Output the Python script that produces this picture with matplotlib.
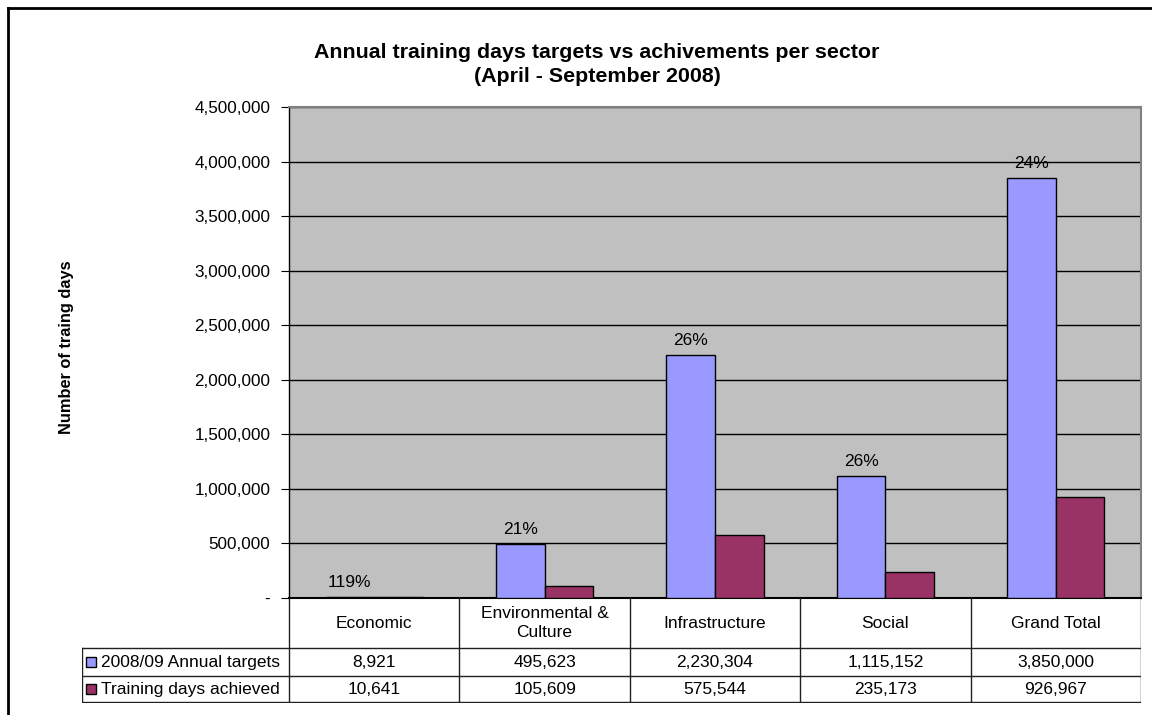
import matplotlib.pyplot as plt
from matplotlib.lines import Line2D
from matplotlib.patches import Rectangle
from matplotlib.ticker import FuncFormatter

plt.rcParams['font.family'] = ['Liberation Sans', 'DejaVu Sans']

# Data
sectors = ['Economic', 'Environmental &\nCulture', 'Infrastructure', 'Social', 'Grand Total']
targets = [8921, 495623, 2230304, 1115152, 3850000]
achieved = [10641, 105609, 575544, 235173, 926967]
pct_labels = ['119%', '21%', '26%', '26%', '24%']
series_names = ['2008/09 Annual targets', 'Training days achieved']
colors = ['#9999FF', '#993366']

W, H = 1152, 715
fig = plt.figure(figsize=(W / 100, H / 100), dpi=100)

# plot area in pixel coordinates
px_l, px_r, px_t, px_b = 289, 1141, 107, 598
ax = fig.add_axes([px_l / W, 1 - px_b / H, (px_r - px_l) / W, (px_b - px_t) / H])
ax.set_facecolor('#C0C0C0')

x = list(range(len(sectors)))
w = 1 / 3.5
ax.bar([i - w / 2 for i in x], targets, w, color=colors[0], edgecolor='black', linewidth=1, zorder=3)
ax.bar([i + w / 2 for i in x], achieved, w, color=colors[1], edgecolor='black', linewidth=1, zorder=3)

for i, lab in enumerate(pct_labels):
    ax.annotate(lab, (i - w / 2, targets[i]), xytext=(0, 5), textcoords='offset points',
                ha='center', va='bottom', fontsize=12.5)

ax.set_xlim(-0.5, len(sectors) - 0.5)
ax.set_ylim(0, 4500000)
ax.set_yticks(range(0, 4500001, 500000))
ax.yaxis.set_major_formatter(FuncFormatter(lambda v, p: '-' if v == 0 else f'{int(v):,}'))
ax.tick_params(axis='y', labelsize=12.3, length=6, pad=7.5, direction='out')
ax.set_xticks([])
ax.grid(axis='y', color='black', linewidth=1, zorder=1)
for s in ['top', 'right']:
    ax.spines[s].set_color('#808080')
    ax.spines[s].set_linewidth(1.5)
ax.spines['left'].set_linewidth(1)
ax.spines['bottom'].set_linewidth(1.5)

fig.text(67 / W, 1 - 347 / H, 'Number of traing days', rotation=90, ha='center', va='center',
         fontsize=11.8, fontweight='bold')

fig.text(597 / W, 1 - 53 / H, 'Annual training days targets vs achivements per sector',
         ha='center', va='center', fontsize=15.4, fontweight='bold')
fig.text(597 / W, 1 - 77 / H, '(April - September 2008)',
         ha='center', va='center', fontsize=15.4, fontweight='bold')

# data table under the plot
t_l, t_r, t_t, t_b = 82, 1141, 598, 703
tab = fig.add_axes([t_l / W, 1 - t_b / H, (t_r - t_l) / W, (t_b - t_t) / H])
tab.set_xlim(t_l, t_r)
tab.set_ylim(t_b, t_t)
tab.axis('off')

col_w = (px_r - px_l) / len(sectors)
row_y = [598, 648, 676, 702]
lc = '#202020'
for k in range(len(sectors) + 1):
    xv = px_l + k * col_w
    tab.add_line(Line2D([xv, xv], [row_y[0], row_y[3]], color=lc, lw=1))
tab.add_line(Line2D([t_l, t_l], [row_y[1], row_y[3]], color=lc, lw=1))
for yv in row_y[1:]:
    tab.add_line(Line2D([t_l, t_r], [yv, yv], color=lc, lw=1))

for k, name in enumerate(sectors):
    tab.text(px_l + (k + 0.5) * col_w, (row_y[0] + row_y[1]) / 2, name, ha='center', va='center',
             fontsize=12.5, linespacing=1.3)

for r, (name, vals) in enumerate(zip(series_names, [targets, achieved])):
    yc = (row_y[r + 1] + row_y[r + 2]) / 2
    tab.add_patch(Rectangle((86, yc - 5.5), 10, 10, facecolor=colors[r], edgecolor='black', lw=1))
    tab.text(101, yc, name, ha='left', va='center', fontsize=12.5)
    for k, v in enumerate(vals):
        tab.text(px_l + (k + 0.5) * col_w, yc, f'{v:,}', ha='center', va='center', fontsize=12.5)

# outer chart border (left and top visible)
fig.add_artist(Line2D([7.5 / W, 7.5 / W], [0, 1 - 7.5 / H], color='black', lw=2))
fig.add_artist(Line2D([7.5 / W, 1], [1 - 7.5 / H, 1 - 7.5 / H], color='black', lw=2))

fig.savefig('out.png', dpi=100)
